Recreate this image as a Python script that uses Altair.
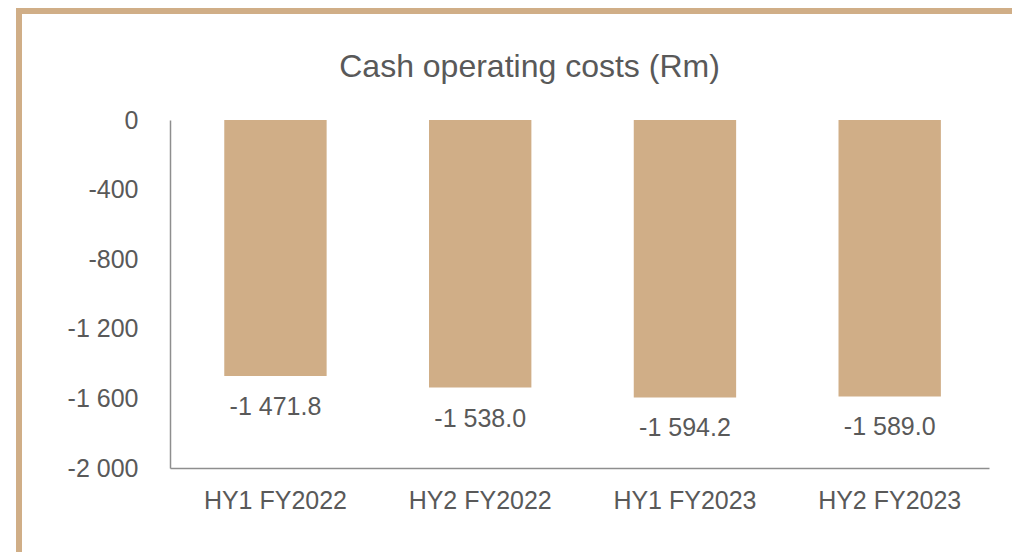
import altair as alt
import pandas as pd

periods = ["HY1 FY2022", "HY2 FY2022", "HY1 FY2023", "HY2 FY2023"]
costs = [-1471.8, -1538.0, -1594.2, -1589.0]
y_ticks = [0, -400, -800, -1200, -1600, -2000]

df = pd.DataFrame({"period": periods, "cost": costs})

TAN = "#D0AE87"
TXT = "#595959"
FONT = "Liberation Sans"

base = alt.Chart(df)

x_enc = alt.X("period:N", sort=periods, title=None,
              scale=alt.Scale(paddingInner=0.5, paddingOuter=0.25, align=0.53),
              axis=alt.Axis(labelAngle=0, labelFontSize=25, labelColor=TXT, labelFont=FONT,
                            tickSize=0, labelPadding=20, domainColor="#8E8E8E", domainWidth=1.5))
y_enc = alt.Y("cost:Q", title=None,
              scale=alt.Scale(domain=[-2000, 0], nice=False),
              axis=alt.Axis(values=y_ticks, format=",.0f", labelFontSize=25, labelColor=TXT,
                            labelFont=FONT, tickSize=0, labelPadding=32, grid=False,
                            domainColor="#8E8E8E", domainWidth=1.5))

bars = base.mark_bar(color=TAN).encode(x=x_enc, y=y_enc, y2=alt.datum(0))

labels = base.mark_text(dy=31, baseline="middle", align="center", fontSize=25,
                        color=TXT, font=FONT).encode(
    x=alt.X("period:N", sort=periods),
    y=alt.Y("cost:Q"),
    text=alt.Text("cost:Q", format=",.1f"),
)

frame = alt.Chart(pd.DataFrame({"k": [0]})).mark_rect(
    fill=None, stroke=TAN, strokeWidth=6, clip=False
).encode(x=alt.value(-151), x2=alt.value(880), y=alt.value(-109), y2=alt.value(450))

chart = alt.layer(frame, bars, labels).properties(
    width=819, height=348,
    title=alt.TitleParams("Cash operating costs (Rm)", fontSize=32, font=FONT,
                          color=TXT, fontWeight="normal", anchor="middle", dx=-50,
                          baseline="middle", offset=-91),
    autosize=alt.AutoSizeParams(type="none"),
    padding={"left": 162, "top": 112, "right": 23, "bottom": 84},
).configure(
    background="white",
    view=alt.ViewConfig(stroke=None),
    locale=alt.Locale(number=alt.NumberLocale(decimal=".", thousands=" ", grouping=[3],
                                              currency=["", ""], minus="-")),
)

chart.save("out.html", embed_options={"renderer": "svg", "actions": False})
